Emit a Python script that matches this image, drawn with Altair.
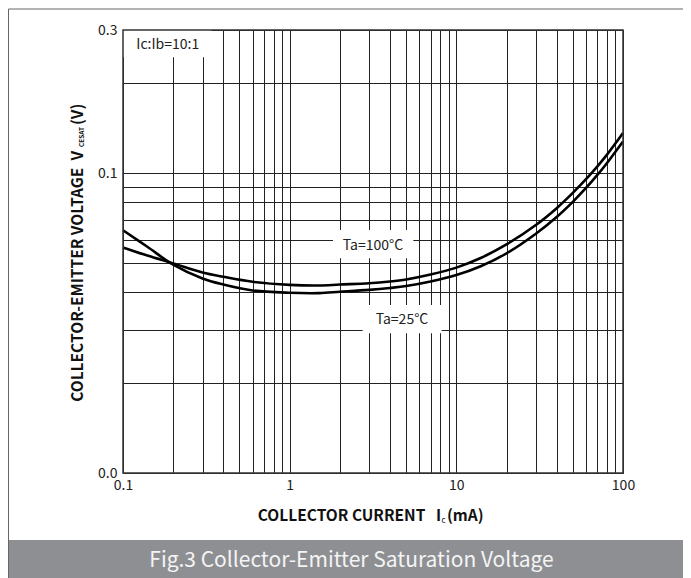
import altair as alt
import pandas as pd

# ---- data ----
ic_ma = [0.1, 0.14, 0.2, 0.3, 0.4, 0.6, 1, 1.5, 2, 3, 4, 5, 7, 10, 14, 20, 30, 40, 50, 60, 70, 80, 100]
vce_25 = [0.0645, 0.0568, 0.0495, 0.0445, 0.0425, 0.0406, 0.0399, 0.0398, 0.0402, 0.0408, 0.0414, 0.0420,
          0.0435, 0.0457, 0.0489, 0.0540, 0.0628, 0.0714, 0.0802, 0.0892, 0.0984, 0.1079, 0.1275]
vce_100 = [0.0565, 0.0531, 0.0500, 0.0466, 0.0451, 0.0434, 0.0424, 0.0422, 0.0425, 0.0429, 0.0435, 0.0442,
           0.0459, 0.0484, 0.0521, 0.0578, 0.0671, 0.0764, 0.0859, 0.0954, 0.1051, 0.1150, 0.1360]
series_names = ["Ta=25°C", "Ta=100°C"]

x_ticks = [0.1, 0.2, 0.3, 0.4, 0.5, 0.6, 0.7, 0.8, 0.9,
           1, 2, 3, 4, 5, 6, 7, 8, 9,
           10, 20, 30, 40, 50, 60, 70, 80, 90, 100]
y_ticks = [0.01, 0.02, 0.03, 0.04, 0.05, 0.06, 0.07, 0.08, 0.09, 0.1, 0.2, 0.3]

note_text = ["Ic:Ib=10:1", "Ta=100°C", "Ta=25°C"]
note_x = [0.1856, 3.16, 4.72]
note_y = [0.2664, 0.0573, 0.0324]
box_x1 = [0.1, 1.82, 2.74]
box_x2 = [0.339, 5.52, 8.17]
box_y1 = [0.3, 0.0646, 0.0363]
box_y2 = [0.2433, 0.0520, 0.02925]

caption = "Fig.3 Collector-Emitter Saturation Voltage"
x_title = "COLLECTOR CURRENT\u00a0\u00a0\u00a0I"
y_title = "COLLECTOR-EMITTER VOLTAGE\u00a0\u00a0V"

FONT = "Noto Sans CJK SC"
W, H = 500, 443

curves = pd.DataFrame({
    "ic": ic_ma * 2,
    "v": vce_25 + vce_100,
    "series": [series_names[0]] * len(ic_ma) + [series_names[1]] * len(ic_ma),
})
notes = pd.DataFrame({"x": note_x, "y": note_y, "t": note_text})
boxes = pd.DataFrame({"x1": box_x1, "x2": box_x2, "y1": box_y1, "y2": box_y2})
one = pd.DataFrame({"a": [0]})

xscale = alt.Scale(type="log", domain=[0.1, 100], nice=False)
yscale = alt.Scale(type="log", domain=[0.01, 0.3], nice=False)

x_axis = alt.Axis(
    values=x_ticks, grid=True, gridColor="#222", gridWidth=1, domain=False, ticks=False,
    labelExpr="datum.value == 0.1 ? '0.1' : datum.value == 1 ? '1' : datum.value == 10 ? '10' : datum.value == 100 ? '100' : ''",
    labelFontSize=14, labelColor="#222", labelPadding=5, labelFlush=False, labelOverlap=False, title=None,
)
y_axis = alt.Axis(
    values=y_ticks, grid=True, gridColor="#222", gridWidth=1, domain=False, ticks=False,
    labelExpr="datum.value == 0.3 ? '0.3' : datum.value == 0.1 ? '0.1' : datum.value == 0.01 ? '0.0' : ''",
    labelFontSize=14, labelColor="#222", labelPadding=6, labelFlush=False, labelOverlap=False, title=None,
)

base_lines = alt.Chart(curves).mark_line(color="black", strokeWidth=2.6, interpolate="catmull-rom").encode(
    x=alt.X("ic:Q", scale=xscale, axis=x_axis),
    y=alt.Y("v:Q", scale=yscale, axis=y_axis),
    detail="series:N",
)

box_layer = alt.Chart(boxes).mark_rect(color="white").encode(
    x=alt.X("x1:Q", scale=xscale, axis=x_axis), x2="x2:Q",
    y=alt.Y("y1:Q", scale=yscale, axis=y_axis), y2="y2:Q",
)

note_layer = alt.Chart(notes).mark_text(fontSize=14, color="#222", font=FONT, baseline="middle").encode(
    x=alt.X("x:Q", scale=xscale, axis=x_axis),
    y=alt.Y("y:Q", scale=yscale, axis=y_axis),
    text="t:N",
)

border = alt.Chart(one).mark_rect(filled=False, stroke="#333", strokeWidth=1.5).encode(
    x=alt.value(0), x2=alt.value(W), y=alt.value(0), y2=alt.value(H)
)

# decorations (frame, caption band, axis titles)
frame_top = alt.Chart(one).mark_rule(color="#666", strokeWidth=1).encode(
    x=alt.value(-114.5), x2=alt.value(570), y=alt.value(-21), y2=alt.value(-21))
frame_left = alt.Chart(one).mark_rule(color="#666", strokeWidth=1).encode(
    x=alt.value(-114.5), x2=alt.value(-114.5), y=alt.value(-21), y2=alt.value(548))
band = alt.Chart(one).mark_rect(color="#8e8f93").encode(
    x=alt.value(-114), x2=alt.value(570), y=alt.value(510), y2=alt.value(548))
cap = alt.Chart(one).mark_text(text=caption, font=FONT, fontSize=21, color="#f4f4f4",
                               align="center", baseline="middle").encode(
    x=alt.value(228.5), y=alt.value(531))

xt_main = alt.Chart(one).mark_text(text=x_title, font=FONT, fontSize=15.5, fontWeight="bold", color="#111",
                                   align="right", baseline="middle").encode(x=alt.value(318), y=alt.value(486))
xt_sub = alt.Chart(one).mark_text(text="c", font=FONT, fontSize=8, color="#111",
                                  align="left", baseline="middle").encode(x=alt.value(318.5), y=alt.value(491))
xt_end = alt.Chart(one).mark_text(text="(mA)", font=FONT, fontSize=15.5, fontWeight="bold", color="#111",
                                  align="left", baseline="middle").encode(x=alt.value(324), y=alt.value(486))

yt_main = alt.Chart(one).mark_text(text=y_title, font=FONT, fontSize=15.5, fontWeight="bold", color="#111",
                                   align="right", baseline="middle", angle=270).encode(x=alt.value(-45), y=alt.value(121))
yt_sub = alt.Chart(one).mark_text(text="CESAT", font=FONT, fontSize=6.5, fontWeight="bold", color="#111",
                                  align="left", baseline="middle", angle=270).encode(x=alt.value(-41), y=alt.value(117))
yt_end = alt.Chart(one).mark_text(text="(V)", font=FONT, fontSize=15.5, fontWeight="bold", color="#111",
                                  align="left", baseline="middle", angle=270).encode(x=alt.value(-45), y=alt.value(95))

chart = alt.layer(
    base_lines, box_layer, note_layer, border,
    frame_top, frame_left, band, cap,
    xt_main, xt_sub, xt_end, yt_main, yt_sub, yt_end,
).properties(
    width=W, height=H,
    autosize=alt.AutoSizeParams(type="none"),
    padding={"left": 115, "top": 22, "right": 60, "bottom": 105},
).configure(
    font=FONT,
    background="white",
).configure_view(stroke=None).configure_axis(labelFont=FONT)

chart.save("out.html", embed_options={"renderer": "svg", "actions": False})
